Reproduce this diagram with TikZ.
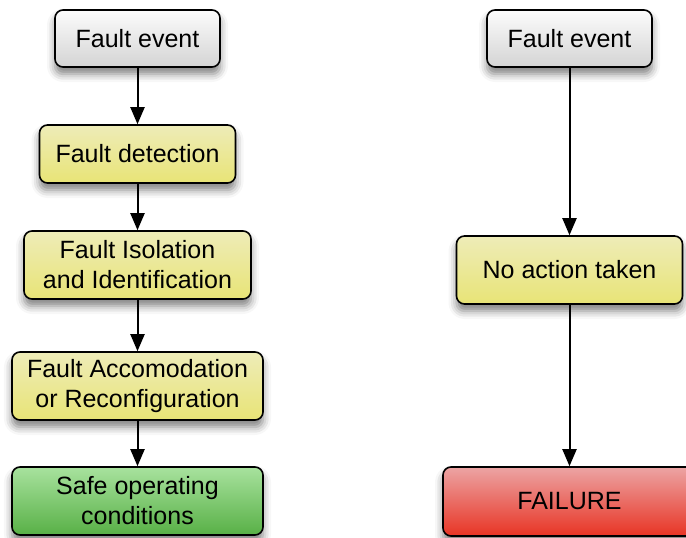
\documentclass[tikz,border=0pt]{standalone}
\usepackage{fontspec}
\setmainfont{Liberation Sans}
\usetikzlibrary{arrows.meta,shadows.blur}
\definecolor{greytop}{RGB}{252,252,252}
\definecolor{greybot}{RGB}{212,212,212}
\definecolor{yeltop}{RGB}{238,236,184}
\definecolor{yelbot}{RGB}{232,228,118}
\definecolor{grntop}{RGB}{168,226,158}
\definecolor{grnbot}{RGB}{88,176,70}
\definecolor{redtop}{RGB}{236,164,164}
\definecolor{redbot}{RGB}{232,52,36}
\begin{document}
\begin{tikzpicture}[x=1pt,y=-1pt,
  box/.style={rectangle, rounded corners=8pt, draw=black, line width=1.6pt,
    align=center, font=\fontsize{25}{30}\selectfont, inner sep=0pt,
    blur shadow={shadow xshift=0pt, shadow yshift=-7pt, shadow blur radius=8pt, shadow opacity=50}},
  greybox/.style={box, top color=greytop, bottom color=greybot},
  yelbox/.style={box, top color=yeltop, bottom color=yelbot},
  grnbox/.style={box, top color=grntop, bottom color=grnbot},
  redbox/.style={box, top color=redtop, bottom color=redbot},
  arr/.style={line width=2pt, -{Triangle[width=14pt,length=17pt]}}]
\useasboundingbox (0,0) rectangle (686,538);
% left column
\node[greybox, minimum width=165pt, minimum height=57pt] (fe1) at (137.5,38.5) {Fault event};
\node[yelbox, minimum width=196pt, minimum height=58pt] (fd) at (137.5,154) {Fault detection};
\node[yelbox, minimum width=227pt, minimum height=68pt] (fi) at (137.5,265) {Fault Isolation\\and Identification};
\node[yelbox, minimum width=251pt, minimum height=68pt] (fa) at (137.5,386) {Fault Accomodation\\or Reconfiguration};
\node[grnbox, minimum width=251pt, minimum height=68pt] (so) at (137.5,501) {Safe operating\\conditions};
% right column
\node[greybox, minimum width=165pt, minimum height=57pt] (fe2) at (569.5,38.5) {Fault event};
\node[yelbox, minimum width=226pt, minimum height=68pt] (na) at (569.5,270) {No action taken};
\node[redbox, minimum width=253pt, minimum height=69pt] (fl) at (569.5,501.5) {FAILURE};
% connectors
\draw[arr] (fe1) -- (fd);
\draw[arr] (fd) -- (fi);
\draw[arr] (fi) -- (fa);
\draw[arr] (fa) -- (so);
\draw[arr] (fe2) -- (na);
\draw[arr] (na) -- (fl);
\end{tikzpicture}
\end{document}
